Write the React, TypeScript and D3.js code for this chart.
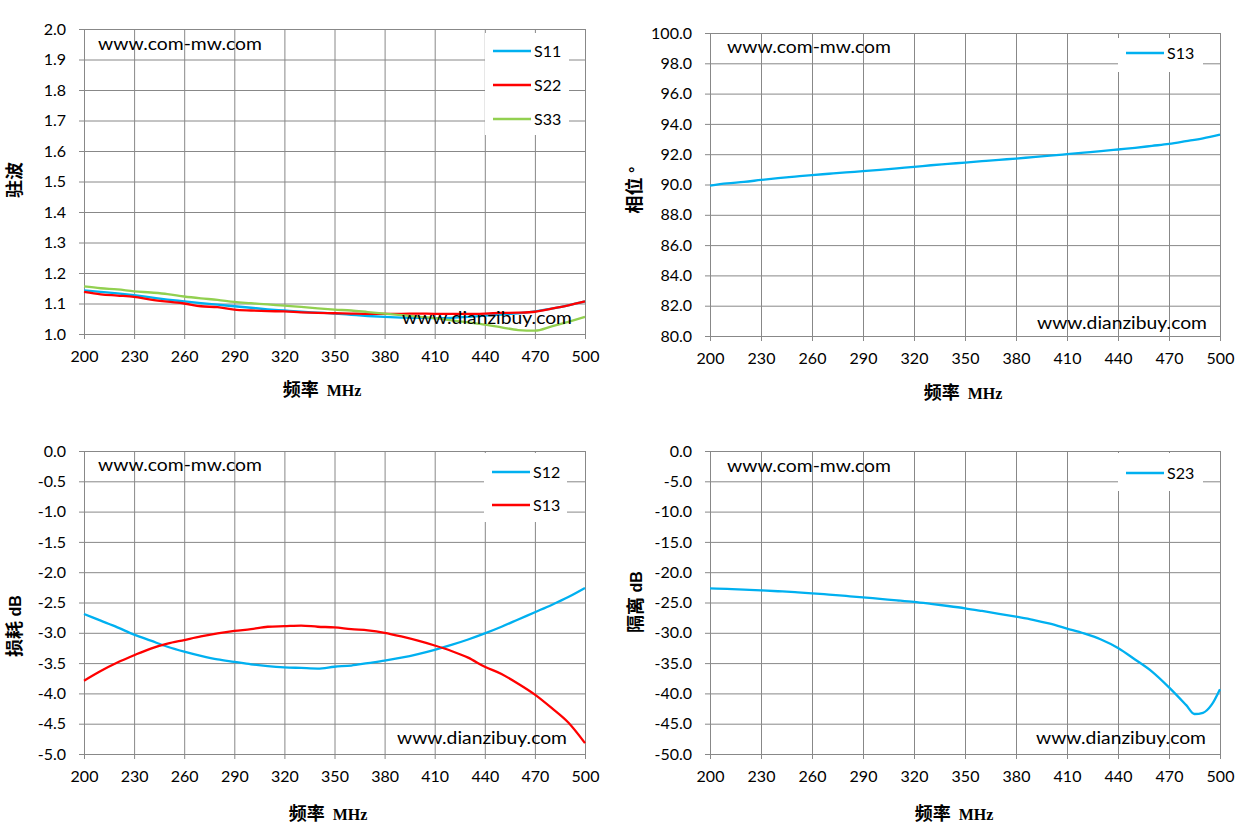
import { useEffect, useRef } from 'react'
import * as d3 from 'd3'

const FREQ = [200, 210, 220, 230, 240, 250, 260, 270, 280, 290, 300, 310, 320, 330, 340, 350, 360, 370, 380, 390, 400, 410, 420, 430, 440, 450, 460, 470, 480, 490, 500]
const X_TICKS = [200, 230, 260, 290, 320, 350, 380, 410, 440, 470, 500]

// 驻波
const VSWR_S11 = [1.143, 1.138, 1.133, 1.127, 1.120, 1.113, 1.107, 1.101, 1.096, 1.091, 1.086, 1.081, 1.077, 1.073, 1.070, 1.067, 1.063, 1.059, 1.056, 1.054, 1.053, 1.052, 1.053, 1.056, 1.060, 1.064, 1.068, 1.074, 1.083, 1.094, 1.107]
const VSWR_S22 = [1.138, 1.130, 1.126, 1.122, 1.113, 1.106, 1.100, 1.091, 1.088, 1.080, 1.077, 1.075, 1.074, 1.071, 1.069, 1.068, 1.067, 1.066, 1.066, 1.066, 1.067, 1.066, 1.066, 1.066, 1.067, 1.069, 1.070, 1.073, 1.083, 1.094, 1.107]
const VSWR_S33 = [1.156, 1.150, 1.146, 1.140, 1.136, 1.131, 1.123, 1.117, 1.112, 1.105, 1.101, 1.097, 1.093, 1.089, 1.084, 1.080, 1.077, 1.072, 1.067, 1.062, 1.057, 1.052, 1.045, 1.038, 1.031, 1.022, 1.013, 1.011, 1.025, 1.040, 1.056]
const VSWR_TICKS = [1.0, 1.1, 1.2, 1.3, 1.4, 1.5, 1.6, 1.7, 1.8, 1.9, 2.0]

// 相位
const PHASE_S13 = [89.93, 90.08, 90.17, 90.30, 90.42, 90.52, 90.62, 90.71, 90.80, 90.88, 90.97, 91.07, 91.16, 91.27, 91.36, 91.45, 91.54, 91.63, 91.71, 91.81, 91.90, 92.00, 92.10, 92.20, 92.31, 92.42, 92.55, 92.68, 92.86, 93.05, 93.30]
const PHASE_TICKS = [80, 82, 84, 86, 88, 90, 92, 94, 96, 98, 100]

// 损耗
const LOSS_S12 = [-2.69, -2.80, -2.91, -3.03, -3.13, -3.23, -3.31, -3.38, -3.44, -3.48, -3.52, -3.55, -3.57, -3.58, -3.59, -3.56, -3.54, -3.50, -3.46, -3.41, -3.35, -3.28, -3.20, -3.11, -3.01, -2.90, -2.78, -2.66, -2.54, -2.41, -2.26]
const LOSS_S13 = [-3.79, -3.63, -3.49, -3.37, -3.26, -3.18, -3.12, -3.06, -3.01, -2.97, -2.94, -2.90, -2.89, -2.88, -2.90, -2.91, -2.94, -2.96, -3.00, -3.06, -3.13, -3.21, -3.30, -3.41, -3.56, -3.68, -3.84, -4.02, -4.24, -4.48, -4.82]
const LOSS_TICKS = [0, -0.5, -1, -1.5, -2, -2.5, -3, -3.5, -4, -4.5, -5]

// 隔离
const ISO_FREQ = [200, 210, 220, 230, 240, 250, 260, 270, 280, 290, 300, 310, 320, 330, 340, 350, 360, 370, 380, 390, 400, 410, 420, 430, 440, 450, 460, 470, 480, 485, 490, 495, 500]
const ISO_S23 = [-22.66, -22.76, -22.87, -22.99, -23.14, -23.30, -23.48, -23.70, -23.92, -24.15, -24.40, -24.64, -24.90, -25.23, -25.58, -25.96, -26.40, -26.86, -27.34, -27.85, -28.50, -29.30, -30.10, -31.10, -32.50, -34.40, -36.40, -39.00, -41.90, -43.40, -43.20, -41.90, -39.30]
const ISO_TICKS = [0, -5, -10, -15, -20, -25, -30, -35, -40, -45, -50]

const BLUE = '#00b0f0', RED = '#ff0000', GREEN = '#92d050'
const GRID = '#888888'
const FONT = 'Lato, "Noto Sans", sans-serif'

interface Series { name: string; color: string; xs: number[]; ys: number[] }
interface Panel {
  left: number; right: number; top: number; bottom: number
  domain: [number, number]; ticks: number[]
  yTitle: [string, string]; yTitlePos: [number, number]; xTitlePos: [number, number]
  series: Series[]
  legend: { x: number; y: number; w: number; h: number; rows: number[] }
  wm1: [number, number]; wm2: [number, number]
}

const PANELS: Panel[] = [
  {
    left: 84, right: 585, top: 29, bottom: 334, domain: [1, 2], ticks: VSWR_TICKS,
    yTitle: ['驻波', ''], yTitlePos: [15, 180], xTitlePos: [322, 390],
    series: [
      { name: 'S11', color: BLUE, xs: FREQ, ys: VSWR_S11 },
      { name: 'S22', color: RED, xs: FREQ, ys: VSWR_S22 },
      { name: 'S33', color: GREEN, xs: FREQ, ys: VSWR_S33 },
    ],
    legend: { x: 485, y: 33, w: 84, h: 102, rows: [51, 85, 119] },
    wm1: [98, 50], wm2: [402, 324],
  },
  {
    left: 710, right: 1220, top: 33, bottom: 336, domain: [80, 100], ticks: PHASE_TICKS,
    yTitle: ['相位', ' °'], yTitlePos: [635, 190], xTitlePos: [963, 393],
    series: [{ name: 'S13', color: BLUE, xs: FREQ, ys: PHASE_S13 }],
    legend: { x: 1118, y: 38, w: 85, h: 34, rows: [53] },
    wm1: [727, 53], wm2: [1037, 329],
  },
  {
    left: 84, right: 585, top: 451, bottom: 754, domain: [-5, 0], ticks: LOSS_TICKS,
    yTitle: ['损耗', ' dB'], yTitlePos: [15, 626], xTitlePos: [328, 814],
    series: [
      { name: 'S12', color: BLUE, xs: FREQ, ys: LOSS_S12 },
      { name: 'S13', color: RED, xs: FREQ, ys: LOSS_S13 },
    ],
    legend: { x: 484, y: 453, w: 83, h: 69, rows: [472, 505] },
    wm1: [98, 471], wm2: [397, 744],
  },
  {
    left: 710, right: 1220, top: 451, bottom: 754, domain: [-50, 0], ticks: ISO_TICKS,
    yTitle: ['隔离', ' dB'], yTitlePos: [636, 602], xTitlePos: [954, 814],
    series: [{ name: 'S23', color: BLUE, xs: ISO_FREQ, ys: ISO_S23 }],
    legend: { x: 1118, y: 453, w: 85, h: 38, rows: [473] },
    wm1: [727, 472], wm2: [1036, 744],
  },
]

function drawPanel(svg: d3.Selection<SVGSVGElement, unknown, null, undefined>, p: Panel) {
  const x = d3.scaleLinear().domain([200, 500]).range([p.left, p.right])
  const y = d3.scaleLinear().domain(p.domain).range([p.bottom, p.top])
  const w = p.right - p.left, h = p.bottom - p.top
  const g = svg.append('g')

  // grid + ticks, ticks stick out 5px past the left and bottom edge
  const yAxis = g.append('g').attr('transform', `translate(${p.left - 5},0)`)
    .call(d3.axisLeft(y).tickValues(p.ticks).tickSize(-(w + 5)).tickPadding(13)
      .tickFormat(d => (+d).toFixed(1)))
  const xAxis = g.append('g').attr('transform', `translate(0,${p.bottom + 5})`)
    .call(d3.axisBottom(x).tickValues(X_TICKS).tickSize(-(h + 5)).tickPadding(12)
      .tickFormat(d => String(d)))
  ;[yAxis, xAxis].forEach(a => {
    a.select('.domain').remove()
    a.selectAll('line').attr('stroke', GRID).attr('stroke-width', 1)
    a.selectAll('text').attr('fill', '#000').attr('font-family', FONT).attr('font-size', 16)
  })

  // legend box hides the grid behind it
  const L = p.legend
  g.append('rect').attr('x', L.x).attr('y', L.y).attr('width', L.w).attr('height', L.h).attr('fill', '#fff')

  const line = d3.line<[number, number]>().x(d => x(d[0])).y(d => y(d[1])).curve(d3.curveMonotoneX)
  p.series.forEach(s => {
    g.append('path').datum(s.xs.map((f, i) => [f, s.ys[i]] as [number, number]))
      .attr('fill', 'none').attr('stroke', s.color).attr('stroke-width', 2.3)
      .attr('stroke-linejoin', 'round').attr('d', line)
  })

  p.series.forEach((s, i) => {
    const ry = L.rows[i]
    g.append('line').attr('x1', L.x + 8).attr('x2', L.x + 46).attr('y1', ry).attr('y2', ry)
      .attr('stroke', s.color).attr('stroke-width', 2.5)
    g.append('text').attr('x', L.x + 49).attr('y', ry).attr('dy', '0.36em')
      .attr('font-family', FONT).attr('font-size', 16).attr('fill', '#000').text(s.name)
  })

  // watermarks
  g.append('text').attr('x', p.wm1[0]).attr('y', p.wm1[1]).attr('font-family', FONT).attr('font-size', 17)
    .attr('textLength', 164).attr('lengthAdjust', 'spacingAndGlyphs').attr('fill', '#000').text('www.com-mw.com')
  g.append('text').attr('x', p.wm2[0]).attr('y', p.wm2[1]).attr('font-family', FONT).attr('font-size', 17)
    .attr('textLength', 170).attr('lengthAdjust', 'spacingAndGlyphs').attr('fill', '#000').text('www.dianzibuy.com')

  // axis titles
  const yt = g.append('text')
    .attr('transform', `translate(${p.yTitlePos[0]},${p.yTitlePos[1]}) rotate(-90)`)
    .attr('text-anchor', 'middle').attr('dy', '0.36em').attr('font-weight', 'bold').attr('fill', '#000')
  yt.append('tspan').attr('font-family', '"Noto Sans CJK SC", sans-serif').attr('font-size', 18).text(p.yTitle[0])
  if (p.yTitle[1]) {
    yt.append('tspan').attr('font-family', '"Liberation Sans", sans-serif').attr('font-size', 16).text(p.yTitle[1])
  }

  const xt = g.append('text').attr('x', p.xTitlePos[0]).attr('y', p.xTitlePos[1]).attr('dy', '0.36em')
    .attr('text-anchor', 'middle').attr('font-weight', 'bold').attr('fill', '#000')
  xt.append('tspan').attr('font-family', '"Noto Sans CJK SC", sans-serif').attr('font-size', 18).text('频率')
  xt.append('tspan').attr('dx', 8).attr('font-family', '"Liberation Serif", serif').attr('font-size', 16).text('MHz')
}

export default function App() {
  const ref = useRef<SVGSVGElement>(null)

  useEffect(() => {
    document.body.style.margin = '0'
    const svg = d3.select(ref.current!)
    svg.selectAll('*').remove()
    PANELS.forEach(p => drawPanel(svg, p))
  }, [])

  return <svg ref={ref} width={1250} height={835} style={{ display: 'block', background: '#fff' }} />
}
